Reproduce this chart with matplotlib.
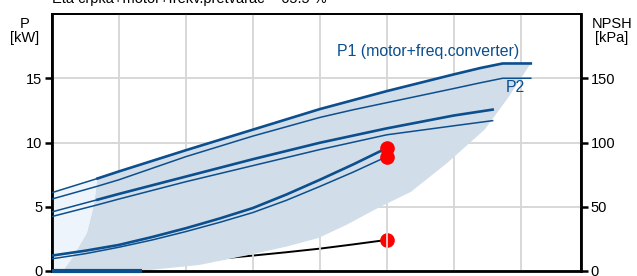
import matplotlib
matplotlib.use("Agg")
import matplotlib.pyplot as plt

plt.rcParams['font.family'] = ['Liberation Sans', 'DejaVu Sans']

# flow axis in grid units, power in kW, NPSH in kPa
x_top = [0, 0.68, 1, 2, 3, 4, 4.5, 5, 5.5, 6, 6.4, 6.73, 7.15]
y_p1_top = [6.1, 7.2, 7.75, 9.4, 11.0, 12.6, 13.3, 14.0, 14.65, 15.3, 15.8, 16.15, 16.15]
y_p2_top = [5.6, 6.6, 7.1, 8.9, 10.5, 11.95, 12.55, 13.1, 13.65, 14.2, 14.65, 15.0, 15.0]

x_mid = [0, 0.68, 1, 2, 3, 4, 5, 6, 6.58]
y_p1_mid = [4.6, 5.55, 6.0, 7.35, 8.7, 9.98, 11.1, 12.1, 12.56]
y_p2_mid = [4.24, 5.15, 5.6, 6.95, 8.2, 9.45, 10.6, 11.3, 11.7]

x_low = [0, 0.5, 1, 1.5, 2, 2.5, 3, 3.5, 4, 4.5, 5]
y_p1_low = [1.2, 1.58, 2.03, 2.65, 3.33, 4.08, 4.9, 5.95, 7.1, 8.3, 9.57]
y_p2_low = [0.95, 1.35, 1.85, 2.42, 3.07, 3.78, 4.55, 5.5, 6.58, 7.7, 8.9]
npsh_low = [0, 1.5, 3.3, 5.2, 7.3, 9.6, 12.0, 14.6, 17.4, 20.7, 24.2]

# duty point
x_duty = 5.0
p1_duty = 9.57
p2_duty = 8.9
npsh_duty = 24.2

# operating envelope
env_x = [0.68, 1, 2, 3, 4, 4.5, 5, 5.5, 6, 6.4, 6.73, 7.15, 6.8, 6.46, 5.9, 5.36,
         4.87, 4.4, 3.98, 3.5, 2.94, 2.2, 1.46, 0.71, 0.16, 0.3, 0.52, 0.62, 0.68]
env_y = [7.2, 7.75, 9.4, 11.0, 12.6, 13.3, 14.0, 14.65, 15.3, 15.8, 16.15, 16.15,
         13.4, 11.0, 8.4, 6.16, 4.91, 3.6, 2.57, 1.9, 1.25, 0.47, 0.08, 0.0, 0.0,
         1.0, 2.96, 5.0, 7.2]
ext_x = [0, 0.16, 0.3, 0.52, 0.62, 0.68, 0]
ext_y = [0, 0, 1.0, 2.96, 5.0, 7.2, 6.1]

range_x = [0, 1.35]
range_y = [0, 0]

blue = '#0b4f8e'

fig = plt.figure(figsize=(6.37, 2.76), dpi=100)
ax = fig.add_axes([52/637, 1 - 271/276, 529/637, 257/276])
ax2 = ax.twinx()

ax.fill(env_x, env_y, color='#d1dde8', lw=0, zorder=1)
ax.fill(ext_x, ext_y, color='#edf4fb', lw=0, zorder=1)

# thin extensions left of the operating range, thick inside it
ax.plot(x_top[:2], y_p1_top[:2], color=blue, lw=1.1, zorder=3)
ax.plot(x_top[1:], y_p1_top[1:], color=blue, lw=1.9, zorder=3)
ax.plot(x_top, y_p2_top, color=blue, lw=1.1, zorder=3)
ax.plot(x_mid[:2], y_p1_mid[:2], color=blue, lw=1.1, zorder=3)
ax.plot(x_mid[1:], y_p1_mid[1:], color=blue, lw=1.9, zorder=3)
ax.plot(x_mid, y_p2_mid, color=blue, lw=1.1, zorder=3)
ax.plot(x_low, y_p1_low, color=blue, lw=1.9, zorder=3)
ax.plot(x_low, y_p2_low, color=blue, lw=1.1, zorder=3)
ax.plot(range_x, range_y, color=blue, lw=3, zorder=4, clip_on=False,
        solid_capstyle='butt')

ax.plot([x_duty, x_duty], [p1_duty, p2_duty], 'o', color='#ff0000', ms=9.5,
        zorder=5)

ax2.plot(x_low, npsh_low, color='black', lw=1.4, zorder=3)
ax2.plot([x_duty], [npsh_duty], 'o', color='#ff0000', ms=9.5, zorder=5)

ax.text(4.25, 17.08, 'P1 (motor+freq.converter)', color=blue, fontsize=11.4,
        va='center', ha='left')
ax.text(6.78, 14.27, 'P2', color=blue, fontsize=11.4, va='center', ha='left')

ax.set_xlim(0, 7.9)
ax.set_ylim(0, 20)
ax2.set_ylim(0, 200)
ax.set_xticks(range(1, 8))
ax.set_yticks([0, 5, 10, 15])
ax2.set_yticks([0, 50, 100, 150])
ax.tick_params(axis='x', length=0, labelbottom=False)
ax.tick_params(axis='y', direction='out', length=5, width=1.8, labelsize=10.5,
               pad=2)
ax2.tick_params(axis='y', direction='out', length=5, width=1.8, labelsize=10.5,
                pad=2)
ax.grid(True, color='#d6d6d6', lw=1.3, zorder=0)
ax.set_axisbelow(True)
ax.patch.set_visible(False)
ax2.set_zorder(0)
ax.set_zorder(1)
ax2.patch.set_facecolor('white')
ax2.patch.set_visible(True)

for a in (ax, ax2):
    for s in a.spines.values():
        s.set_color('black')
        s.set_linewidth(1.3)
ax.spines['left'].set_linewidth(2)
ax2.spines['right'].set_linewidth(2)
ax.spines['bottom'].set_linewidth(2)

fig.text(25/637, 1 - 31/276, 'P\n[kW]', ha='center', va='center',
         fontsize=10.5, linespacing=0.95)
fig.text(612/637, 1 - 31/276, 'NPSH\n[kPa]', ha='center', va='center',
         fontsize=10.5, linespacing=0.95)
fig.text(52/637, 1 - 3/276, 'Eta črpka+motor+frekv.pretvarač = 65.5 %',
         ha='left', va='baseline', fontsize=10.5)

fig.savefig('out.png', dpi=100)
